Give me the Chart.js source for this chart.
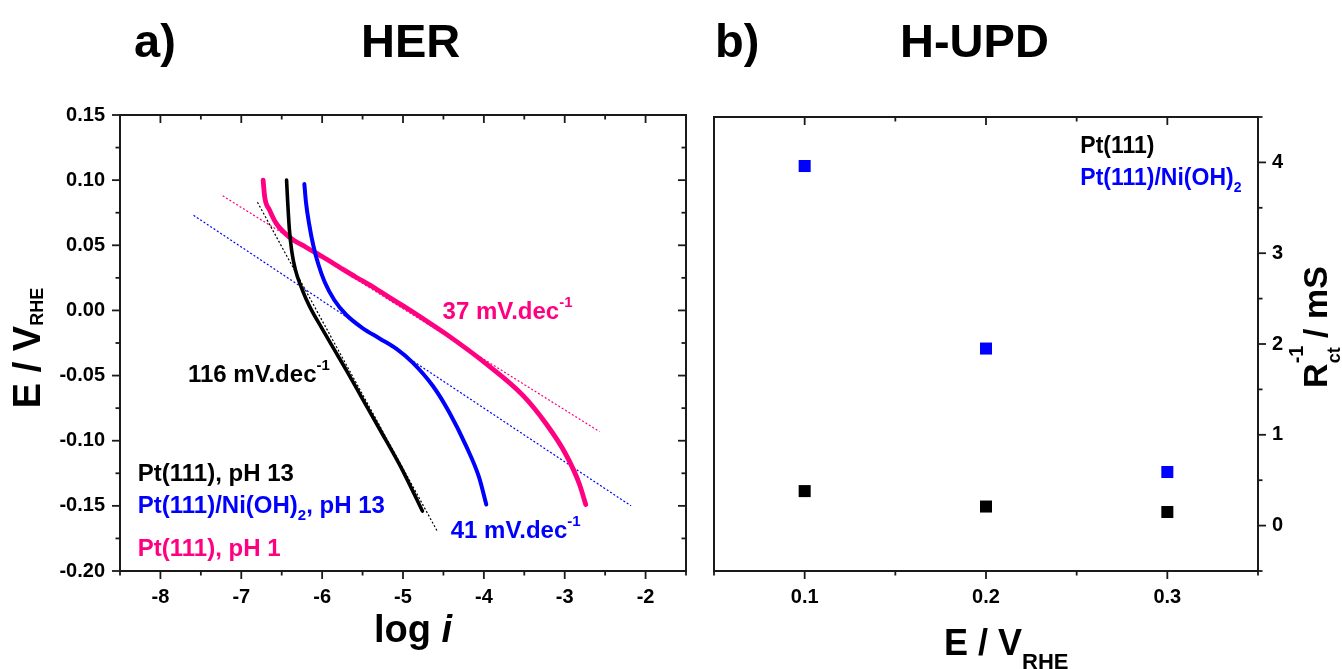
<!DOCTYPE html>
<html>
<head>
<meta charset="utf-8">
<script src="https://cdn.jsdelivr.net/npm/chart.js@4.4.1/dist/chart.umd.min.js"></script>
<style>
html,body{margin:0;padding:0;background:#fff;}
#wrap{position:relative;width:1342px;height:669px;overflow:hidden;background:#fff;}
#herCanvas{position:absolute;left:0;top:0;}
#hupdCanvas{position:absolute;left:700px;top:0;}
</style>
</head>
<body>
<div id="wrap">
<canvas id="herCanvas" width="700" height="669"></canvas>
<canvas id="hupdCanvas" width="642" height="669"></canvas>
</div>
<script>
// ---------------- Panel a) HER : E (V vs RHE) vs log i ----------------
const blackLogI = [-6.44, -6.425, -6.405, -6.375, -6.33, -6.26, -6.20, -6.13, -6.01, -5.87, -5.70, -5.50, -5.29, -5.02, -4.76];
const blackE    = [0.100, 0.082, 0.062, 0.045, 0.031, 0.018, 0.009, 0.000, -0.013, -0.028, -0.046, -0.068, -0.091, -0.121, -0.154];

const blueLogI = [-6.22, -6.20, -6.16, -6.11, -6.05, -5.97, -5.85, -5.70, -5.50, -5.29, -5.08, -4.88, -4.63, -4.43, -4.22, -4.06, -3.97];
const blueE    = [0.097, 0.083, 0.066, 0.050, 0.036, 0.022, 0.008, -0.0035, -0.0135, -0.0215, -0.0295, -0.040, -0.058, -0.078, -0.104, -0.128, -0.149];

const pinkLogI = [-6.73, -6.71, -6.65, -6.57, -6.40, -6.20, -5.99, -5.78, -5.58, -5.37, -5.17, -4.96, -4.76, -4.47, -3.97, -3.52, -3.23, -2.99, -2.82, -2.74];
const pinkE    = [0.100, 0.087, 0.077, 0.067, 0.056, 0.0485, 0.0410, 0.033, 0.0255, 0.018, 0.010, 0.002, -0.006, -0.018, -0.041, -0.065, -0.087, -0.110, -0.133, -0.149];

// Tafel fit lines (dotted)
const blackFitLogI = [-6.80, -4.58];
const blackFitE    = [0.083, -0.169];
const blueFitLogI  = [-7.59, -2.18];
const blueFitE     = [0.073, -0.150];
const pinkFitLogI  = [-7.23, -2.57];
const pinkFitE     = [0.088, -0.093];

// ---------------- Panel b) H-UPD : 1/Rct (mS) vs E ----------------
const hupdPotential = [0.1, 0.2, 0.3];
const hupdPt111     = [0.38, 0.21, 0.15];
const hupdPtNiOH2   = [3.96, 1.95, 0.59];

// Tick labels
const herXTickLabels  = [-8, -7, -6, -5, -4, -3, -2];
const herYTickLabels  = [-0.20, -0.15, -0.10, -0.05, 0.00, 0.05, 0.10, 0.15];
const hupdXTickLabels = [0.1, 0.2, 0.3];
const hupdYTickLabels = [0, 1, 2, 3, 4];

const FONT = "'Liberation Sans', Arial, Helvetica, sans-serif";
const PINK = '#ff0080', BLUE = '#0000ff', BLACK = '#000000';

Chart.defaults.font.family = FONT;
Chart.defaults.font.weight = 'bold';
Chart.defaults.font.size = 20;
Chart.defaults.color = '#000';

function pts(xs, ys) { return xs.map((x, i) => ({ x: x, y: ys[i] })); }
function inList(list, v) { return list.some(t => Math.abs(t - v) < 1e-6); }
function isMult(v, step) { const r = v / step; return Math.abs(r - Math.round(r)) < 1e-6; }

// Frame + tick marks (inward / outward) drawn from the chart's own scales
function framePlugin(specs) {
  return {
    id: 'frameTicks',
    afterDraw(chart) {
      const ctx = chart.ctx, a = chart.chartArea;
      ctx.save();
      ctx.strokeStyle = '#1a1a1a';
      ctx.lineWidth = 1.8;
      for (const s of specs) {
        const sc = chart.scales[s.scale];
        for (const t of sc.ticks) {
          const v = t.value;
          const len = isMult(v, s.major) ? 8 : 4.5;
          const p = sc.getPixelForValue(v);
          for (const e of s.edges) {
            const d = e.out ? len : -len;
            ctx.beginPath();
            if (e.side === 'bottom') { ctx.moveTo(p, a.bottom); ctx.lineTo(p, a.bottom + d); }
            if (e.side === 'top')    { ctx.moveTo(p, a.top);    ctx.lineTo(p, a.top - d); }
            if (e.side === 'left')   { ctx.moveTo(a.left, p);   ctx.lineTo(a.left - d, p); }
            if (e.side === 'right')  { ctx.moveTo(a.right, p);  ctx.lineTo(a.right + d, p); }
            ctx.stroke();
          }
        }
      }
      ctx.lineWidth = 2;
      ctx.strokeRect(a.left, a.top, a.right - a.left, a.bottom - a.top);
      ctx.restore();
    }
  };
}

function fontStr(p) {
  return (p.italic ? 'italic ' : '') + 'bold ' + p.size + 'px ' + FONT;
}
function drawRich(ctx, parts, x, y, align, color) {
  const widths = parts.map(p => { ctx.font = fontStr(p); return ctx.measureText(p.t).width; });
  let adv = 0;
  parts.forEach((p, i) => { if (!p.stack) adv += widths[i]; });
  let cx = align === 'center' ? x - adv / 2 : x;
  ctx.textAlign = 'left';
  ctx.textBaseline = 'alphabetic';
  parts.forEach((p, i) => {
    ctx.font = fontStr(p);
    ctx.fillStyle = p.color || color;
    ctx.fillText(p.t, cx, y + (p.dy || 0));
    if (!p.stack) cx += widths[i];
  });
}

// Text plugin: items anchored to data (through the scales) or to canvas pixels
function textPlugin(items) {
  return {
    id: 'richText',
    afterDraw(chart) {
      const ctx = chart.ctx;
      ctx.save();
      for (const it of items) {
        let px, py;
        if (it.data) {
          px = chart.scales.x.getPixelForValue(it.data[0]);
          py = chart.scales.y.getPixelForValue(it.data[1]) + 0.36 * it.parts[0].size;
        } else {
          px = it.px; py = it.py;
        }
        ctx.save();
        ctx.translate(px, py);
        if (it.rotate) ctx.rotate(it.rotate);
        drawRich(ctx, it.parts, 0, 0, it.align || 'left', it.color);
        ctx.restore();
      }
      ctx.restore();
    }
  };
}

function lineDS(xs, ys, color, width, order) {
  return { data: pts(xs, ys), showLine: true, borderColor: color, borderWidth: width,
           pointRadius: 0, cubicInterpolationMode: 'monotone', order: order, fill: false,
           borderCapStyle: 'round', borderJoinStyle: 'round' };
}
function fitDS(xs, ys, color) {
  return { data: pts(xs, ys), showLine: true, borderColor: color, borderWidth: 1.2,
           borderDash: [2, 2], pointRadius: 0, tension: 0, order: 10, fill: false };
}

// ---------------- Chart a) ----------------
new Chart(document.getElementById('herCanvas'), {
  type: 'scatter',
  data: {
    datasets: [
      lineDS(blackLogI, blackE, BLACK, 3.6, 1),
      lineDS(blueLogI, blueE, BLUE, 4, 2),
      lineDS(pinkLogI, pinkE, PINK, 4.8, 3),
      fitDS(blackFitLogI, blackFitE, BLACK),
      fitDS(blueFitLogI, blueFitE, BLUE),
      fitDS(pinkFitLogI, pinkFitE, PINK)
    ]
  },
  options: {
    responsive: false,
    animation: false,
    layout: { padding: { top: 115, right: 13, left: 0, bottom: 0 } },
    plugins: { legend: { display: false }, tooltip: { enabled: false } },
    scales: {
      x: {
        type: 'linear', min: -8.5, max: -1.5,
        grid: { display: false, drawTicks: false }, border: { display: false },
        afterFit: s => { s.height = 98; },
        ticks: { stepSize: 0.5, autoSkip: false, maxRotation: 0, minRotation: 0, maxTicksLimit: 1000, padding: 14,
                 font: { size: 20, weight: 'bold' }, color: '#000',
                 callback: v => inList(herXTickLabels, v) ? String(Math.round(v)) : '' }
      },
      y: {
        type: 'linear', min: -0.2, max: 0.15,
        grid: { display: false, drawTicks: false }, border: { display: false },
        afterFit: s => { s.width = 120; },
        ticks: { stepSize: 0.025, autoSkip: false, maxTicksLimit: 1000, padding: 15,
                 font: { size: 20, weight: 'bold' }, color: '#000',
                 callback: v => inList(herYTickLabels, v) ? (Math.abs(v) < 1e-9 ? '0.00' : v.toFixed(2)) : '' }
      }
    }
  },
  plugins: [
    framePlugin([
      { scale: 'x', major: 1, edges: [{ side: 'bottom', out: true }, { side: 'top', out: false }] },
      { scale: 'y', major: 0.05, edges: [{ side: 'left', out: true }, { side: 'right', out: false }] }
    ]),
    textPlugin([
      { px: 134, py: 57, parts: [{ t: 'a)', size: 47 }], color: BLACK },
      { px: 361, py: 57, parts: [{ t: 'HER', size: 47 }], color: BLACK },
      { px: 40, py: 348, rotate: -Math.PI / 2, align: 'center', color: BLACK,
        parts: [{ t: 'E / V', size: 38 }, { t: 'RHE', size: 18, dy: 3 }] },
      { px: 413, py: 642, align: 'center', color: BLACK,
        parts: [{ t: 'log ', size: 38 }, { t: 'i', size: 38, italic: true }] },
      { data: [-7.66, -0.048], color: BLACK, parts: [{ t: '116 mV.dec', size: 24 }, { t: '-1', size: 15, dy: -12 }] },
      { data: [-4.51, 0.000], color: PINK, parts: [{ t: '37 mV.dec', size: 24 }, { t: '-1', size: 15, dy: -12 }] },
      { data: [-4.41, -0.168], color: BLUE, parts: [{ t: '41 mV.dec', size: 24 }, { t: '-1', size: 15, dy: -12 }] },
      { data: [-8.28, -0.124], color: BLACK, parts: [{ t: 'Pt(111), pH 13', size: 24 }] },
      { data: [-8.28, -0.149], color: BLUE, parts: [{ t: 'Pt(111)/Ni(OH)', size: 24 }, { t: '2', size: 15, dy: 7 }, { t: ', pH 13', size: 24 }] },
      { data: [-8.28, -0.1815], color: PINK, parts: [{ t: 'Pt(111), pH 1', size: 24 }] }
    ])
  ]
});

// ---------------- Chart b) ----------------
new Chart(document.getElementById('hupdCanvas'), {
  type: 'scatter',
  data: {
    datasets: [
      { data: pts(hupdPotential, hupdPt111), pointStyle: 'rect', pointRadius: 8.5, pointBackgroundColor: BLACK, pointBorderWidth: 0, backgroundColor: BLACK, borderWidth: 0 },
      { data: pts(hupdPotential, hupdPtNiOH2), pointStyle: 'rect', pointRadius: 8.5, pointBackgroundColor: BLUE, pointBorderWidth: 0, backgroundColor: BLUE, borderWidth: 0 }
    ]
  },
  options: {
    responsive: false,
    animation: false,
    layout: { padding: { top: 117, right: 0, left: 13, bottom: 0 } },
    plugins: { legend: { display: false }, tooltip: { enabled: false } },
    scales: {
      x: {
        type: 'linear', min: 0.05, max: 0.35,
        grid: { display: false, drawTicks: false }, border: { display: false },
        afterFit: s => { s.height = 98; },
        ticks: { stepSize: 0.05, autoSkip: false, maxRotation: 0, minRotation: 0, maxTicksLimit: 1000, padding: 14,
                 font: { size: 20, weight: 'bold' }, color: '#000',
                 callback: v => inList(hupdXTickLabels, v) ? v.toFixed(1) : '' }
      },
      y: {
        type: 'linear', position: 'right', min: -0.5, max: 4.5,
        grid: { display: false, drawTicks: false }, border: { display: false },
        afterFit: s => { s.width = 84; },
        ticks: { stepSize: 0.5, autoSkip: false, maxTicksLimit: 1000, padding: 14,
                 font: { size: 20, weight: 'bold' }, color: '#000',
                 callback: v => inList(hupdYTickLabels, v) ? String(Math.round(v)) : '' }
      }
    }
  },
  plugins: [
    framePlugin([
      { scale: 'x', major: 0.1, edges: [{ side: 'bottom', out: true }, { side: 'top', out: false }] },
      { scale: 'y', major: 1, edges: [{ side: 'right', out: true }] }
    ]),
    textPlugin([
      { px: 15, py: 57, parts: [{ t: 'b)', size: 47 }], color: BLACK },
      { px: 200, py: 57, parts: [{ t: 'H-UPD', size: 47 }], color: BLACK },
      { px: 244, py: 655, color: BLACK, parts: [{ t: 'E / V', size: 36 }, { t: 'RHE', size: 22, dy: 14 }] },
      { px: 627, py: 327, rotate: -Math.PI / 2, align: 'center', color: BLACK,
        parts: [{ t: 'R', size: 34 }, { t: '-1', size: 20, dy: -24, stack: true }, { t: 'ct', size: 18, dy: 13 }, { t: ' / mS', size: 34 }] },
      { data: [0.252, 4.20], color: BLACK, parts: [{ t: 'Pt(111)', size: 23 }] },
      { data: [0.252, 3.84], color: BLUE, parts: [{ t: 'Pt(111)/Ni(OH)', size: 23 }, { t: '2', size: 14, dy: 7 }] }
    ])
  ]
});
</script>
</body>
</html>
